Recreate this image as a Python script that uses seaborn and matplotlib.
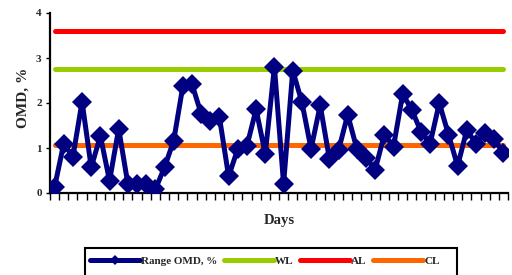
import numpy as np
import pandas as pd
import seaborn as sns
import matplotlib.pyplot as plt
from matplotlib.patches import Rectangle

# range of OMD per day
omd_range = [0.13, 1.10, 0.80, 2.03, 0.57, 1.27, 0.27, 1.43, 0.20, 0.20,
             0.20, 0.08, 0.57, 1.16, 2.37, 2.42, 1.76, 1.60, 1.68, 0.37,
             0.98, 1.05, 1.86, 0.87, 2.80, 0.20, 2.72, 2.02, 0.98, 1.95,
             0.76, 0.95, 1.74, 0.98, 0.78, 0.52, 1.30, 1.03, 2.20, 1.85,
             1.36, 1.10, 2.00, 1.30, 0.60, 1.40, 1.10, 1.33, 1.20, 0.88]
days = list(range(1, len(omd_range) + 1))

# control limits
wl_value = 2.75
al_value = 3.60
cl_value = 1.07

y_ticks = [0, 1, 2, 3, 4]

data = pd.DataFrame({"Days": days, "Range OMD, %": omd_range})
data["WL"] = wl_value
data["AL"] = al_value
data["CL"] = cl_value

sns.set_style("white")
plt.rcParams["font.family"] = ["Liberation Serif", "DejaVu Serif"]
plt.rcParams["font.weight"] = "bold"

fig = plt.figure(figsize=(5.12, 2.75), dpi=100)
ax = fig.add_axes([50 / 512, 82 / 275, 458 / 512, 180 / 275])

sns.lineplot(data=data, x="Days", y="Range OMD, %", ax=ax, color="#000080",
             linewidth=3.6, marker="D", markersize=10.5, markeredgewidth=0,
             label="Range OMD, %", zorder=3)
sns.lineplot(data=data, x="Days", y="WL", ax=ax, color="#99CC00",
             linewidth=3.6, label="WL", solid_capstyle="round", zorder=2)
sns.lineplot(data=data, x="Days", y="AL", ax=ax, color="#FF0000",
             linewidth=3.6, label="AL", solid_capstyle="round", zorder=2)
sns.lineplot(data=data, x="Days", y="CL", ax=ax, color="#FF6600",
             linewidth=3.6, label="CL", solid_capstyle="round", zorder=2)

ax.set_xlim(0.8, len(days) + 0.3)
ax.set_ylim(0, 4)
ax.set_yticks(y_ticks)
ax.set_yticklabels([str(t) for t in y_ticks], fontsize=8, fontweight="bold")
ax.set_xticks(np.arange(0.5, len(days) + 0.6, 1))
ax.set_xticklabels([])
ax.tick_params(axis="x", direction="out", length=5, width=1, color="black", bottom=True)
ax.tick_params(axis="y", direction="out", length=3, width=1, color="black", left=True, pad=3)

for side in ["top", "right"]:
    ax.spines[side].set_visible(False)
for side in ["left", "bottom"]:
    ax.spines[side].set_color("black")
    ax.spines[side].set_linewidth(1.6)

ax.set_xlabel("Days", fontsize=10.5, fontweight="bold")
ax.xaxis.set_label_coords(0.5, -0.115)
ax.set_ylabel("OMD, %", fontsize=11, fontweight="bold")
ax.yaxis.set_label_coords(-0.044, 0.53)

handles, labels = ax.get_legend_handles_labels()
ax.get_legend().remove()
fig.legend(handles, labels, loc="upper left", bbox_to_anchor=(84 / 512, 1 - 251 / 275),
           ncol=4, frameon=False, prop={"weight": "bold", "size": 8},
           handlelength=4.5, handletextpad=0.1, columnspacing=0.6,
           borderpad=0, markerscale=0.5)
fig.patches.append(Rectangle((85 / 512, -0.05), 372 / 512, 0.05 + 27 / 275,
                             transform=fig.transFigure, fill=False,
                             edgecolor="black", linewidth=1.5))

fig.savefig("out.png", dpi=100)
